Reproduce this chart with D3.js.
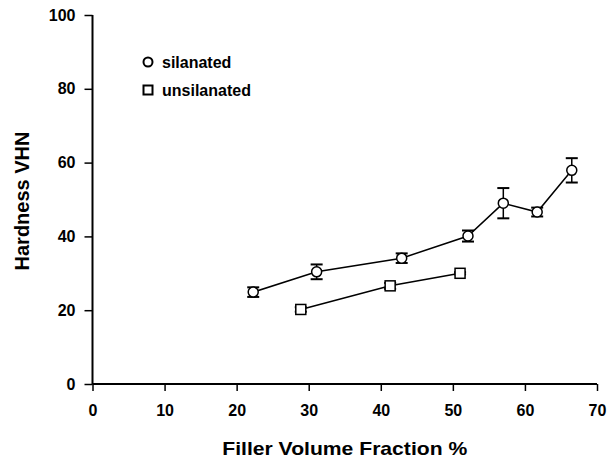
<!DOCTYPE html>
<html>
<head>
<meta charset="utf-8">
<script src="https://cdn.jsdelivr.net/npm/d3@7"></script>
<style>
  body { margin: 0; background: #fff; }
  text { font-family: "Liberation Sans", Arial, sans-serif; font-weight: bold; fill: #000; }
</style>
</head>
<body>
<div id="chart"></div>
<script>
// silanated series
var silX = [22.3, 31.1, 42.9, 52.1, 57.0, 61.7, 66.5];
var silY = [24.9, 30.4, 34.1, 40.1, 49.0, 46.6, 57.9];
var silErr = [1.3, 2.0, 1.3, 1.5, 4.1, 1.2, 3.3];

// unsilanated series
var unsX = [28.9, 41.3, 51.0];
var unsY = [20.2, 26.6, 30.0];
var unsErr = [0.6, 0.8, 0.3];

var xTicks = [0, 10, 20, 30, 40, 50, 60, 70];
var yTicks = [0, 20, 40, 60, 80, 100];

var w = 615;
var h = 458;

var svg = d3.select('#chart').append('svg').attr('width', w).attr('height', h);

var xScale = d3.scaleLinear().domain([0, 70]).range([92.5, 597]);
var yScale = d3.scaleLinear().domain([0, 100]).range([384, 15]);

var xAxis = d3.axisBottom(xScale).tickValues(xTicks).tickSize(7).tickPadding(14);
var yAxis = d3.axisLeft(yScale).tickValues(yTicks).tickSize(8).tickPadding(9);

var gx = svg.append('g').attr('transform', 'translate(0,' + yScale(0) + ')').call(xAxis);
var gy = svg.append('g').attr('transform', 'translate(' + xScale(0) + ',0)').call(yAxis);

[gx, gy].forEach(function(g) {
	g.select('.domain').attr('stroke', '#000').attr('stroke-width', 2);
	g.selectAll('.tick line').attr('stroke', '#000').attr('stroke-width', 1.5);
	g.selectAll('.tick text').attr('font-size', '16px').attr('font-family', null);
});
gx.select('.domain').attr('d', 'M' + xScale(0) + ',0H' + xScale(70));
gy.select('.domain').attr('d', 'M0,' + yScale(0) + 'V' + yScale(100));

// axis titles
svg.append('text')
	.attr('x', (xScale(0) + xScale(70)) / 2)
	.attr('y', 455)
	.attr('text-anchor', 'middle')
	.attr('font-size', '19px')
	.attr('textLength', 245)
	.attr('lengthAdjust', 'spacingAndGlyphs')
	.text('Filler Volume Fraction %');

svg.append('text')
	.attr('transform', 'translate(29,201) rotate(-90)')
	.attr('text-anchor', 'middle')
	.attr('font-size', '20px')
	.text('Hardness VHN');

var line = d3.line()
	.x(function(d) { return xScale(d.x); })
	.y(function(d) { return yScale(d.y); });

function makeData(xs, ys, es) {
	return xs.map(function(x, i) {
		return { x: x, y: ys[i], e: es[i] };
	});
}

var silData = makeData(silX, silY, silErr);
var unsData = makeData(unsX, unsY, unsErr);

function drawSeries(data, shape) {
	var g = svg.append('g');
	g.append('path')
		.attr('d', line(data))
		.attr('fill', 'none')
		.attr('stroke', '#000')
		.attr('stroke-width', 1.5);

	var eb = g.selectAll('.eb').data(data).enter().append('g');
	eb.append('line')
		.attr('x1', function(d) { return xScale(d.x); })
		.attr('x2', function(d) { return xScale(d.x); })
		.attr('y1', function(d) { return yScale(d.y - d.e); })
		.attr('y2', function(d) { return yScale(d.y + d.e); })
		.attr('stroke', '#000').attr('stroke-width', 1.5);
	[-1, 1].forEach(function(s) {
		eb.append('line')
			.attr('x1', function(d) { return xScale(d.x) - 6; })
			.attr('x2', function(d) { return xScale(d.x) + 6; })
			.attr('y1', function(d) { return yScale(d.y + s * d.e); })
			.attr('y2', function(d) { return yScale(d.y + s * d.e); })
			.attr('stroke', '#000').attr('stroke-width', 2);
	});

	if (shape === 'circle') {
		g.selectAll('circle').data(data).enter().append('circle')
			.attr('cx', function(d) { return xScale(d.x); })
			.attr('cy', function(d) { return yScale(d.y); })
			.attr('r', 5)
			.attr('fill', '#fff')
			.attr('stroke', '#000')
			.attr('stroke-width', 1.5);
	} else {
		g.selectAll('rect').data(data).enter().append('rect')
			.attr('x', function(d) { return xScale(d.x) - 5; })
			.attr('y', function(d) { return yScale(d.y) - 5; })
			.attr('width', 10)
			.attr('height', 10)
			.attr('fill', '#fff')
			.attr('stroke', '#000')
			.attr('stroke-width', 1.5);
	}
}

drawSeries(silData, 'circle');
drawSeries(unsData, 'square');

// legend
var legend = svg.append('g');
legend.append('circle').attr('cx', 148).attr('cy', 62).attr('r', 4.5)
	.attr('fill', '#fff').attr('stroke', '#000').attr('stroke-width', 2);
legend.append('text').attr('x', 162).attr('y', 62).attr('dy', '0.35em')
	.attr('font-size', '16px').text('silanated');
legend.append('rect').attr('x', 143.5).attr('y', 85.5).attr('width', 9).attr('height', 9)
	.attr('fill', '#fff').attr('stroke', '#000').attr('stroke-width', 2);
legend.append('text').attr('x', 162).attr('y', 90).attr('dy', '0.35em')
	.attr('font-size', '16px').text('unsilanated');
</script>
</body>
</html>
